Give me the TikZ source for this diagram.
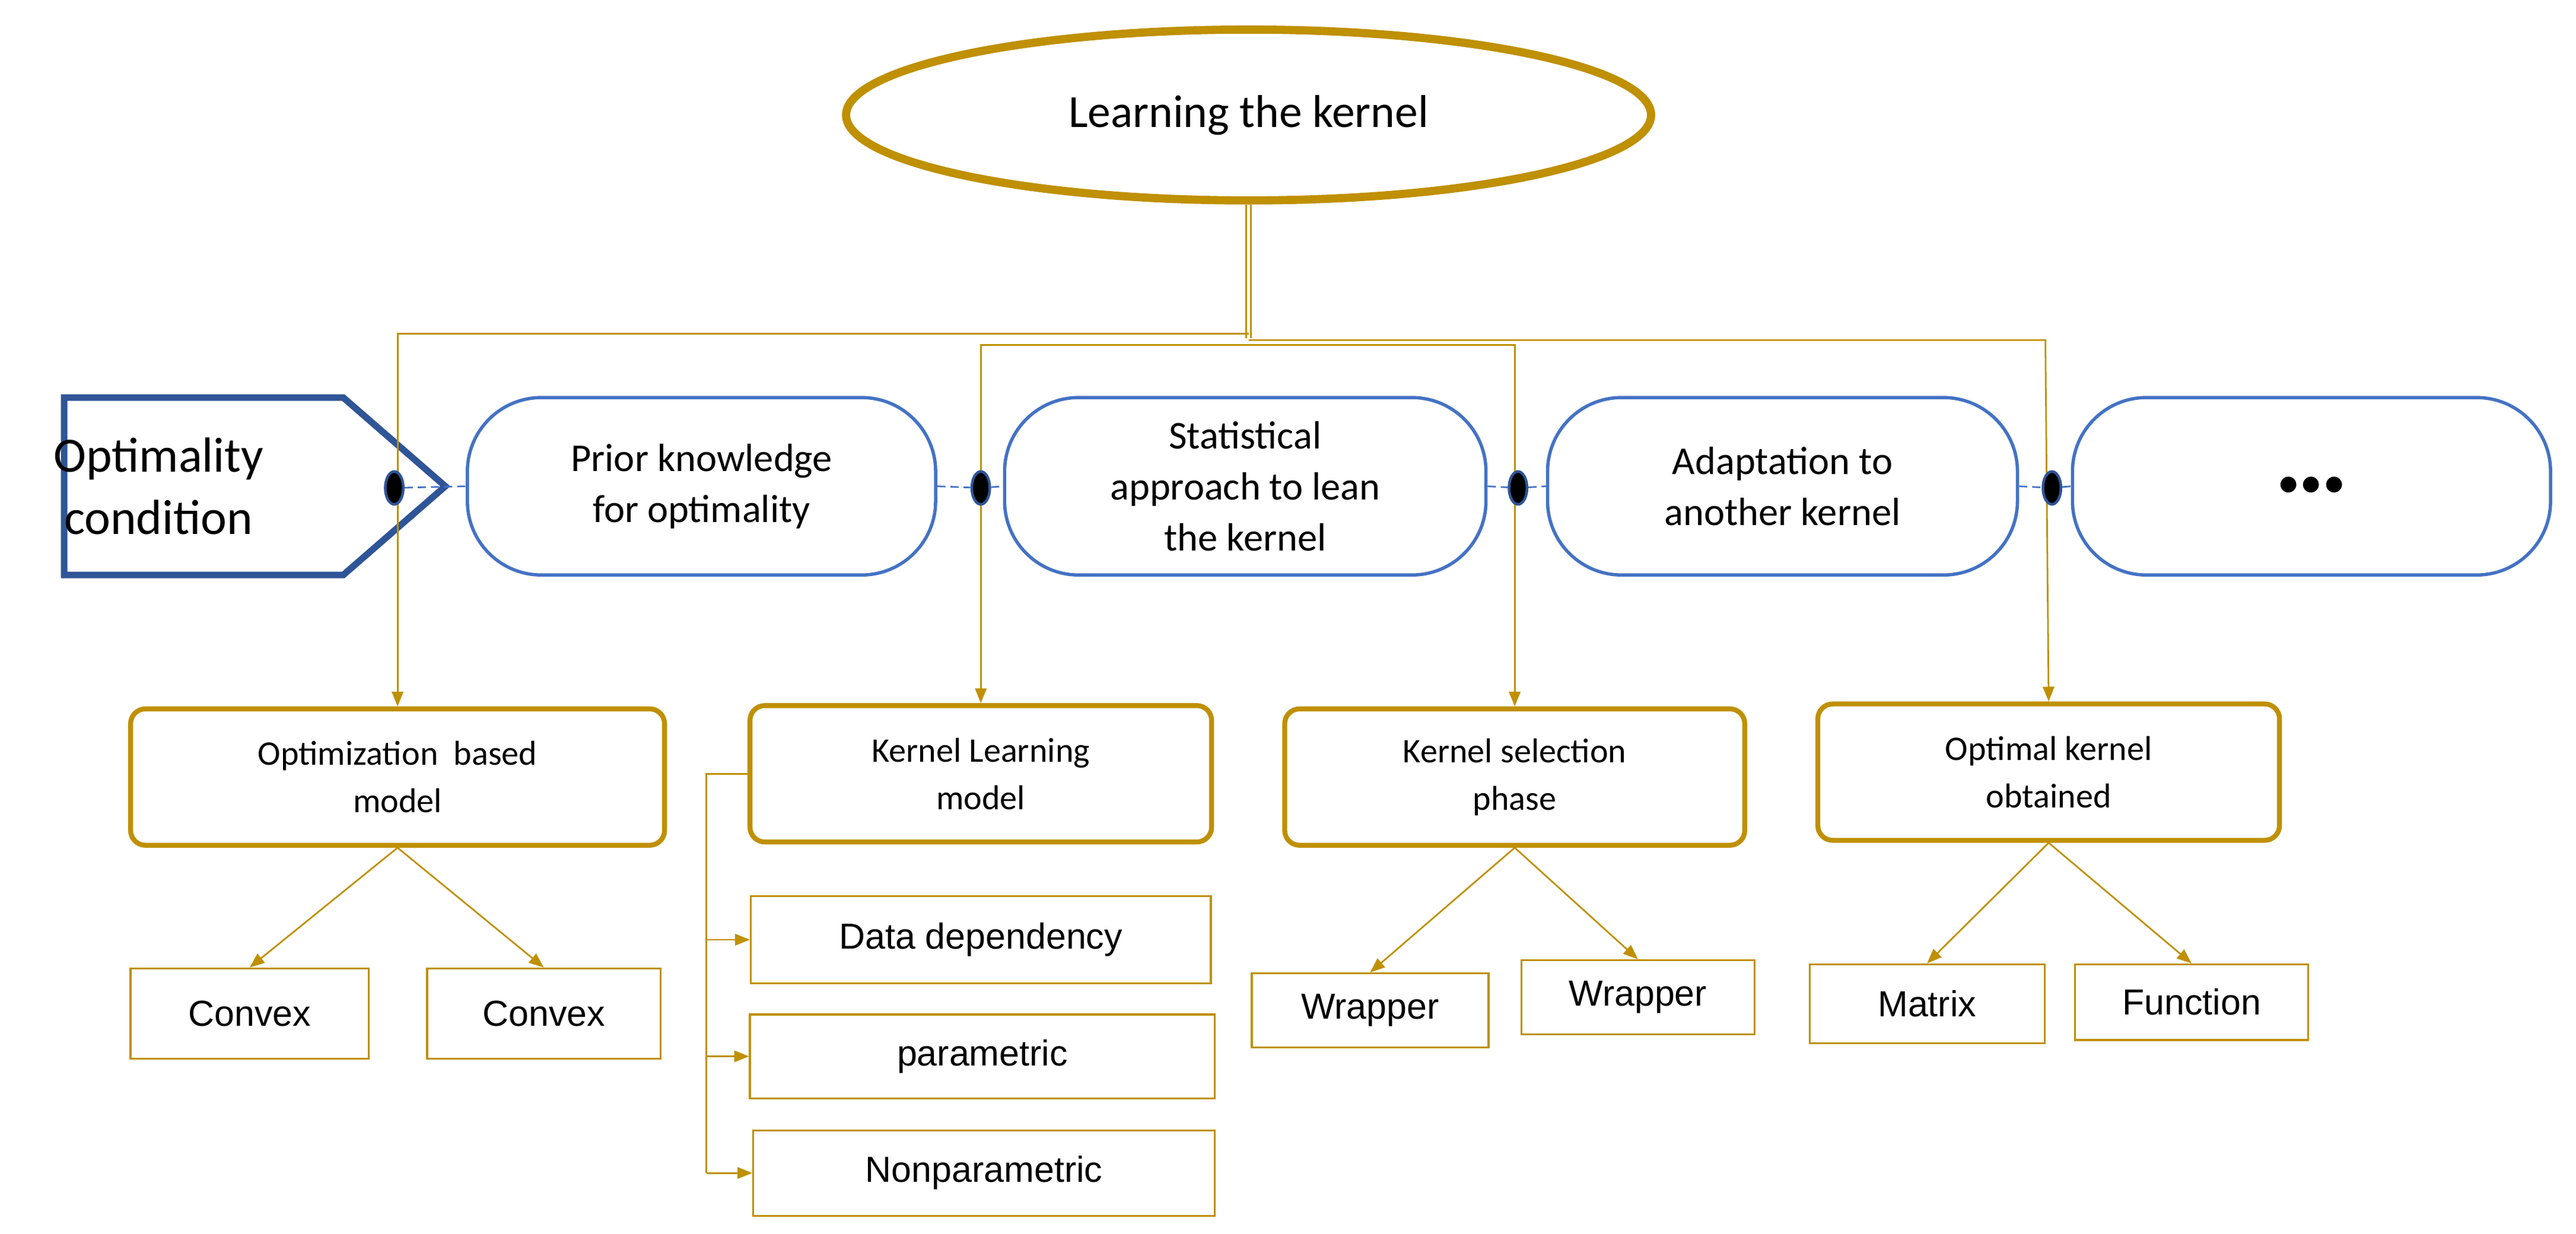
\documentclass[tikz,border=0pt]{standalone}
\usepackage{fontspec}
\setmainfont{Carlito}
\newfontfamily\arialf{Liberation Sans}
\usetikzlibrary{shapes.geometric,shapes.symbols,arrows.meta}
\definecolor{gold}{HTML}{BF9000}
\definecolor{blu}{HTML}{4472C4}
\definecolor{dblu}{HTML}{2F5597}
\begin{document}
\begin{tikzpicture}[x=1pt,y=-1pt,
  gl/.style={draw=gold,line width=1pt},
  ga/.style={gl,-{Triangle[length=9pt,width=7pt]}},
  stad/.style={draw=blu,line width=2pt,rounded corners=45pt,fill=white,minimum width=#1,minimum height=108pt,align=center,font=\fontsize{24}{31}\selectfont},
  gbox/.style={draw=gold,line width=3pt,rounded corners=9pt,fill=white,minimum height=83pt,align=center,font=\fontsize{21}{29}\selectfont},
  leaf/.style={draw=gold,line width=1.2pt,fill=white,font=\arialf\fontsize{22}{26}\selectfont},
  dot/.style={ellipse,draw=dblu,line width=1.6pt,fill=black,minimum width=11pt,minimum height=20pt,inner sep=0pt},
  dsh/.style={draw=blu,line width=1pt,dash pattern=on 5pt off 3pt}]
\useasboundingbox (0,0) rectangle (1568,751);
% ellipse
\node[ellipse,draw=gold,line width=5pt,minimum width=490pt,minimum height=104pt,font=\fontsize{28}{32}\selectfont] (root) at (760,70) {Learning the kernel};
\coordinate (j) at (760,203);
\draw[gl,double,double distance=2pt] (root.south) -- (760,206);
% shapes row
\node[signal,signal to=east,signal pointer angle=82,draw=dblu,line width=4pt,minimum width=232pt,minimum height=108pt,inner sep=0pt,align=center,font=\fontsize{30}{38}\selectfont] (opt) at (124,296) {\hspace*{-55pt}Optimality\\\hspace*{-55pt}condition};
\node[stad=285pt] (s1) at (427,296) {Prior knowledge\\for optimality};
\node[stad=293pt] (s2) at (758,296) {Statistical\\approach to lean\\the kernel};
\node[stad=286pt] (s3) at (1085,296) {Adaptation to\\another kernel};
\node[stad=291pt,font=\fontsize{40}{40}\selectfont] (s4) at (1407,296) {$\bullet\!\bullet\!\bullet$};
% gold boxes
\node[gbox,minimum width=325pt] (g1) at (242,473) {Optimization\ \ based\\model};
\node[gbox,minimum width=281pt] (g2) at (597,471) {Kernel Learning\\model};
\node[gbox,minimum width=280pt] (g3) at (922,473) {Kernel selection\\phase};
\node[gbox,minimum width=281pt] (g4) at (1247,470) {Optimal kernel\\obtained};
% tree connectors
\coordinate (a1) at (242,203); \coordinate (a2) at (1245,207);
\coordinate (b1) at (597,210); \coordinate (b2) at (922,210);
\draw[ga] (j) -- (a1) -- (g1.north);
\draw[ga] (760,207) -- (a2) -- (g4.north);
\draw[ga] (760,210) -- (b1) -- (g2.north);
\draw[ga] (760,210) -- (b2) -- (g3.north);
% dots and dashes
\node[dot] (d1) at (240,297) {};
\node[dot] (d2) at (597,297) {};
\node[dot] (d3) at (924,297) {};
\node[dot] (d4) at (1249,297) {};
\draw[dsh] (d1) -- (s1.west);
\draw[dsh] (s1.east) -- (d2); \draw[dsh] (d2) -- (s2.west);
\draw[dsh] (s2.east) -- (d3); \draw[dsh] (d3) -- (s3.west);
\draw[dsh] (s3.east) -- (d4); \draw[dsh] (d4) -- (s4.west);
% leaves
\node[leaf,minimum width=145pt,minimum height=55pt] (c1) at (152,617) {Convex};
\node[leaf,minimum width=142pt,minimum height=55pt] (c2) at (331,617) {Convex};
\node[leaf,minimum width=280pt,minimum height=53pt] (k1) at (597,572) {Data dependency};
\node[leaf,minimum width=283pt,minimum height=51pt] (k2) at (598,643) {parametric};
\node[leaf,minimum width=281pt,minimum height=52pt] (k3) at (599,714) {Nonparametric};
\node[leaf,minimum width=144pt,minimum height=45pt] (w1) at (834,615) {Wrapper};
\node[leaf,minimum width=142pt,minimum height=45pt] (w2) at (997,607) {Wrapper};
\node[leaf,minimum width=143pt,minimum height=48pt] (m1) at (1173,611) {Matrix};
\node[leaf,minimum width=142pt,minimum height=46pt] (m2) at (1334,610) {Function};
\draw[ga] (g1.south) -- (c1.north);
\draw[ga] (g1.south) -- (c2.north);
\draw[ga] (g3.south) -- (w1.north);
\draw[ga] (g3.south) -- (w2.north);
\draw[ga] (g4.south) -- (m1.north);
\draw[ga] (g4.south) -- (m2.north);
\coordinate (v) at (430,471);
\draw[gl] (g2.west) -- (v) -- (430,714);
\draw[ga] (430,572) -- (k1.west);
\draw[ga] (430,643) -- (k2.west);
\draw[ga] (430,714) -- (k3.west);
\end{tikzpicture}
\end{document}
